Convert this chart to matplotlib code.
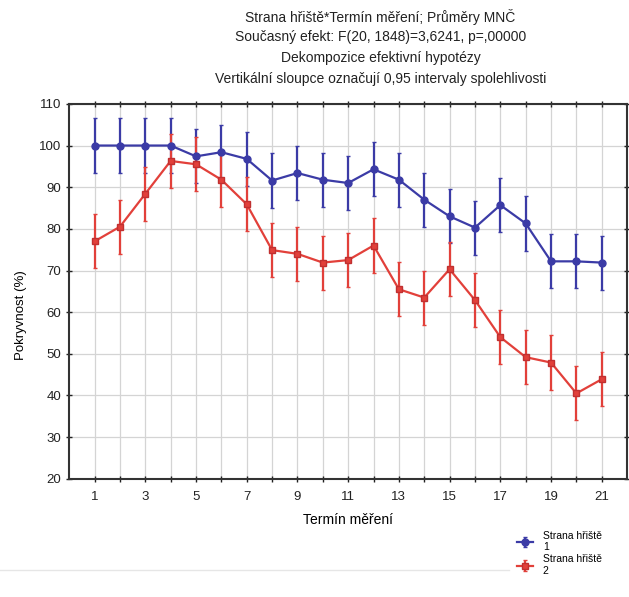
import matplotlib.pyplot as plt
from matplotlib.lines import Line2D

plt.rcParams['font.family'] = ['Liberation Sans', 'DejaVu Sans']

termin = list(range(1, 22))
strana1 = [100.0, 100.0, 100.0, 100.0, 97.4, 98.4, 96.8, 91.6, 93.4, 91.8, 91.0,
           94.3, 91.8, 87.0, 83.0, 80.3, 85.7, 81.3, 72.2, 72.2, 71.9]
strana2 = [77.0, 80.5, 88.4, 96.3, 95.5, 91.8, 85.9, 74.9, 74.0, 71.9, 72.5,
           76.0, 65.5, 63.5, 70.3, 62.9, 54.0, 49.2, 47.9, 40.5, 43.9]
ci1 = [6.5] * 21
ci2 = [6.5] * 21

labels = ['Strana hřiště\n1', 'Strana hřiště\n2']
blue = '#3b3ba6'
red = '#e2403a'

fig = plt.figure(figsize=(6.29, 5.97), dpi=100)
ax = fig.add_axes([0.110, 0.198, 0.887, 0.628])

ax.errorbar(termin, strana1, yerr=ci1, color=blue, marker='o', markersize=5,
            markerfacecolor=blue, markeredgecolor=blue, lw=1.6, elinewidth=1.6,
            capsize=1.5, label=labels[0], zorder=3)
ax.errorbar(termin, strana2, yerr=ci2, color=red, marker='s', markersize=5,
            markerfacecolor=red, markeredgecolor='#c03030', lw=1.6, elinewidth=1.6,
            capsize=1.5, label=labels[1], zorder=3)

ax.set_xlim(0, 22)
ax.set_ylim(20, 110)
ax.set_xticks(range(1, 22))
ax.set_xticklabels([str(t) if t % 2 == 1 else '' for t in termin])
ax.set_yticks(range(20, 111, 10))
ax.grid(True, color='#d4d4d4', lw=0.9)
ax.set_axisbelow(True)
ax.tick_params(direction='inout', length=4, width=1, top=True, right=True,
               labelsize=9.5, colors='#222222')
ax.tick_params(axis='x', pad=7)
for s in ax.spines.values():
    s.set_linewidth(1.5)
    s.set_color('#333333')

ax.set_xlabel('Termín měření', fontsize=10, labelpad=7)
ax.set_ylabel('Pokryvnost (%)', fontsize=9.5)
ax.yaxis.set_label_coords(-0.075, 0.437)

title = ['Strana hřiště*Termín měření; Průměry MNČ',
         'Současný efekt: F(20, 1848)=3,6241, p=,00000',
         'Dekompozice efektivní hypotézy',
         'Vertikální sloupce označují 0,95 intervaly spolehlivosti']
for i, line in enumerate(title):
    fig.text(0.605, 1 - (17 + 20.5 * i) / 597, line, ha='center', va='center',
             fontsize=10, color='#222222')

fig.legend(loc='upper left', bbox_to_anchor=(0.815, 0.118), frameon=False,
           fontsize=7.5, handlelength=1.6, handletextpad=0.9, labelspacing=0.2,
           borderaxespad=0)

fig.add_artist(Line2D([0, 0.81], [0.045, 0.045], color='#e6e6e6', lw=1))

fig.savefig('out.png', dpi=100)
